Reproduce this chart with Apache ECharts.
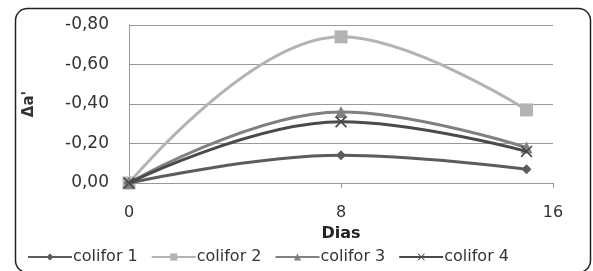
<!DOCTYPE html>
<html><head><meta charset="utf-8">
<script src="https://cdn.jsdelivr.net/npm/echarts@6/dist/echarts.min.js"></script>
<style>html,body{margin:0;padding:0;background:#fff}#c{width:593px;height:271px}</style>
</head><body><div id="c"></div>
<script>
const days = [0, 8, 15];
const names = ['colifor 1', 'colifor 2', 'colifor 3', 'colifor 4'];
const s1 = [0, -0.14, -0.07];
const s2 = [0, -0.74, -0.37];
const s3 = [0, -0.36, -0.18];
const s4 = [0, -0.31, -0.16];
const colors = ['#5c5c5c', '#b3b3b3', '#808080', '#4a4a4a'];
const symbols = ['diamond', 'rect', 'triangle', 'path://M0,1L1,0L5,4L9,0L10,1L6,5L10,9L9,10L5,6L1,10L0,9L4,5Z'];
const sizes = [10, 13, 12, 12];
const all = [s1, s2, s3, s4];

const chart = echarts.init(document.getElementById('c'));
chart.setOption({
  animation: false,
  textStyle: {fontFamily: 'DejaVu Sans, sans-serif'},
  graphic: [{type: 'rect', shape: {x: 15.5, y: 8.5, width: 575, height: 264, r: 12},
    style: {fill: 'none', stroke: '#222', lineWidth: 1.5}, z: 100}],
  grid: {left: 129, right: 40, top: 25, bottom: 88},
  xAxis: {type: 'value', min: 0, max: 16, interval: 8,
    axisLine: {lineStyle: {color: '#999'}},
    axisTick: {show: true, length: 5, lineStyle: {color: '#999'}},
    splitLine: {show: false},
    axisLabel: {fontSize: 16, color: '#333', margin: 22},
    name: 'Dias', nameLocation: 'middle', nameGap: 38,
    nameTextStyle: {fontSize: 16, fontWeight: 'bold', color: '#222'}},
  yAxis: {type: 'value', min: -0.8, max: 0, interval: 0.2, inverse: true,
    axisLine: {show: true, lineStyle: {color: '#999'}},
    axisTick: {show: false},
    splitLine: {lineStyle: {color: '#999', width: 1}},
    axisLabel: {fontSize: 17, color: '#333', margin: 20,
      formatter: v => (Math.abs(v) < 1e-9 ? 0 : v).toFixed(2).replace('.', ',')},
    name: "Δa'", nameLocation: 'middle', nameRotate: 90, nameGap: 92,
    nameTextStyle: {fontSize: 15, fontWeight: 'bold', color: '#333'}},
  legend: {left: 22, top: 244, itemWidth: 44, itemHeight: 9, itemGap: 13,
    lineStyle: {width: 2},
    textStyle: {fontSize: 16, color: '#333', padding: [0, 0, 0, -4]},
    data: names},
  series: all.map((s, i) => ({
    name: names[i], type: 'line', smooth: 0.4,
    data: days.map((d, j) => [d, s[j]]),
    symbol: symbols[i], symbolSize: sizes[i],
    lineStyle: {color: colors[i], width: 3},
    itemStyle: {color: colors[i]},
    z: [2, 1, 3, 4][i]
  }))
});
</script></body></html>
